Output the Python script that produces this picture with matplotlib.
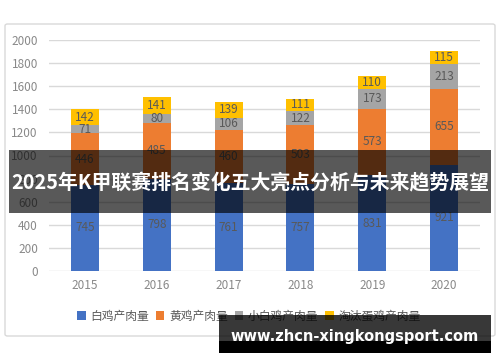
import matplotlib
matplotlib.use('Agg')
import matplotlib.pyplot as plt
from matplotlib.patches import Rectangle, FancyBboxPatch

plt.rcParams['font.family'] = ['Noto Sans CJK SC', 'DejaVu Sans']

years = ['2015', '2016', '2017', '2018', '2019', '2020']
white_chicken = [745, 798, 761, 757, 831, 921]
yellow_chicken = [446, 485, 460, 503, 573, 655]
small_white = [71, 80, 106, 122, 173, 213]
culled_hens = [142, 141, 139, 111, 110, 115]

series = [
    ('白鸡产肉量', white_chicken, '#4472C4'),
    ('黄鸡产肉量', yellow_chicken, '#ED7D31'),
    ('小白鸡产肉量', small_white, '#A5A5A5'),
    ('淘汰蛋鸡产肉量', culled_hens, '#FFC000'),
]

W, H = 500, 362
fig = plt.figure(figsize=(W / 100, H / 100), dpi=100)

# cadre du graphique
frame = FancyBboxPatch((5 / W, 1 - 336 / H), 490 / W, 312 / H,
                       boxstyle='round,pad=0,rounding_size=0.005',
                       transform=fig.transFigure, facecolor='white',
                       edgecolor='#D9D9D9', linewidth=1, zorder=-1)
fig.patches.append(frame)

ax = fig.add_axes([49 / W, 1 - 271 / H, 431 / W, 231 / H])
ax.set_facecolor('none')

x = list(range(len(years)))
bottom = [0] * len(years)
for name, vals, color in series:
    ax.bar(x, vals, 0.39, bottom=bottom, color=color, label=name, zorder=3)
    for xi, b, v in zip(x, bottom, vals):
        ax.text(xi, b + v / 2, str(v), ha='center', va='center',
                fontsize=8.5, color='#595959', zorder=4)
    bottom = [b + v for b, v in zip(bottom, vals)]

ax.set_xlim(-0.5, len(years) - 0.5)
ax.set_ylim(0, 2000)
ax.set_yticks(range(0, 2001, 200))
ax.set_xticks(x)
ax.set_xticklabels(years)
ax.grid(axis='y', color='#D9D9D9', linewidth=1, zorder=0)
for s in ax.spines.values():
    s.set_visible(False)
ax.tick_params(length=0, labelsize=8.5, labelcolor='#898989')
ax.tick_params(axis='x', pad=6)
ax.tick_params(axis='y', pad=8)

fig.legend(loc='center', bbox_to_anchor=(0.498, 1 - 316 / H), ncol=4,
           frameon=False, fontsize=8.5, handlelength=0.7, handleheight=0.7,
           handletextpad=0.4, columnspacing=0.6, labelcolor='#595959')

# bandeau sombre avec titre
fig.patches.append(Rectangle((9 / W, 1 - 213 / H), 482 / W, 63 / H,
                             transform=fig.transFigure, facecolor='black',
                             alpha=0.65, zorder=10))
fig.text(0.5, 1 - 183 / H, '2025年K甲联赛排名变化五大亮点分析与未来趋势展望',
         ha='center', va='center', color='white', fontsize=14.3,
         fontweight='bold', zorder=11)

# filigrane
fig.patches.append(Rectangle((219 / W, 1 - 341 / H), 272 / W, 26 / H,
                             transform=fig.transFigure, facecolor='black',
                             alpha=0.78, zorder=10))
fig.patches.append(Rectangle((219 / W, 1 - 353 / H), 272 / W, 12 / H,
                             transform=fig.transFigure, facecolor='black',
                             zorder=10))
fig.text(354.5 / W, 1 - 337 / H, 'www.zhcn-xingkongsport.com',
         ha='center', va='center', color='white', fontsize=10.5,
         fontweight='bold', family=['DejaVu Sans'], zorder=11)

fig.savefig('out.png', dpi=100)
